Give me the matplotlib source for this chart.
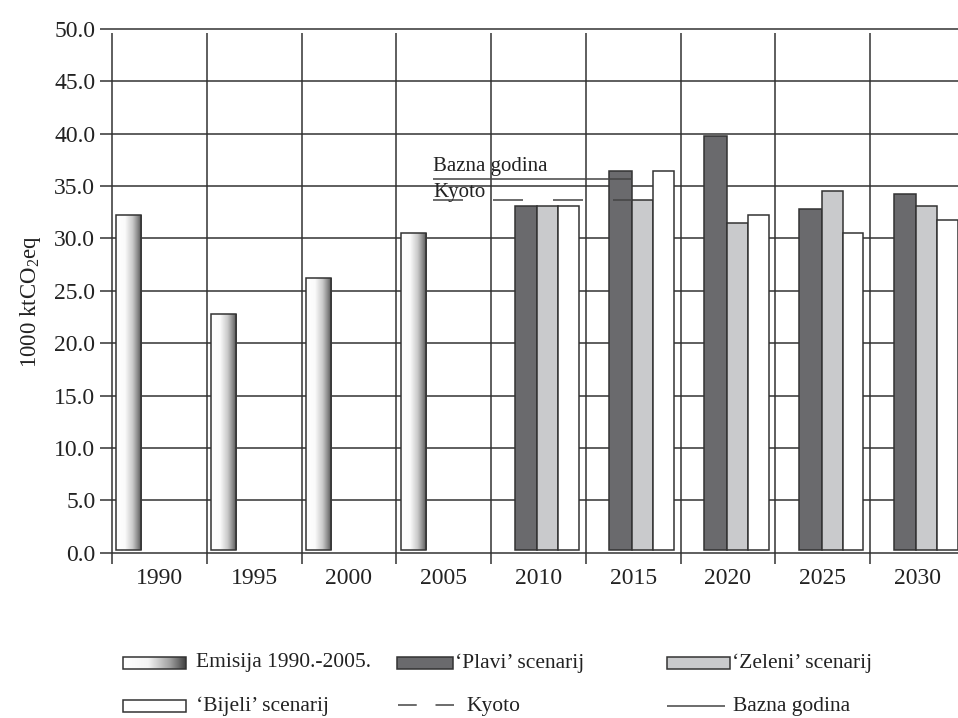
import numpy as np
import matplotlib
matplotlib.use("Agg")
import matplotlib.pyplot as plt
from matplotlib.colors import LinearSegmentedColormap
from matplotlib.patches import Rectangle
import matplotlib.transforms as mtransforms

# ---------------- data ----------------
years = ['1990', '1995', '2000', '2005', '2010', '2015', '2020', '2025', '2030']
hist_years = ['1990', '1995', '2000', '2005']
emisija = [32.2, 22.8, 26.2, 30.5]
scen_years = ['2010', '2015', '2020', '2025', '2030']
plavi = [33.1, 36.4, 39.8, 32.8, 34.2]
zeleni = [33.1, 33.7, 31.5, 34.5, 33.1]
bijeli = [33.1, 36.4, 32.2, 30.5, 31.8]
kyoto = 33.7
bazna = 35.7
yticks = [0, 5, 10, 15, 20, 25, 30, 35, 40, 45, 50]

# ---------------- style ----------------
plt.rcParams['font.family'] = ['Liberation Serif', 'DejaVu Serif']
plt.rcParams['mathtext.fontset'] = 'custom'
plt.rcParams['mathtext.rm'] = 'Liberation Serif'
plt.rcParams['mathtext.it'] = 'Liberation Serif'
plt.rcParams['lines.scale_dashes'] = False

W, H = 958, 718
DPI = 100
fig = plt.figure(figsize=(W / DPI, H / DPI), dpi=DPI)
fig.patch.set_facecolor('white')

LINE = '#333333'
DARK = '#6a6a6d'
LIGHT = '#c9cacc'
TXT = '#222222'
LW = 1.1
FS_TICK = 17
FS_LEG = 15.5

ax_left_px, ax_right_px = 112, 958
ax_bot_px, ax_top_px = 552.7, 29.0
ax = fig.add_axes([ax_left_px / W, 1 - ax_bot_px / H,
                   (ax_right_px - ax_left_px) / W, (ax_bot_px - ax_top_px) / H])
cat_w_px = 94.75
xmax = (ax_right_px - ax_left_px) / cat_w_px
ax.set_xlim(0, xmax)
ax.set_ylim(0, 50)
for s in ax.spines.values():
    s.set_visible(False)
ax.patch.set_visible(False)

ax_w_px = ax_right_px - ax_left_px
ax_h_px = ax_bot_px - ax_top_px

# horizontal grid (extending left as ticks)
trans_h = mtransforms.blended_transform_factory(ax.transAxes, ax.transData)
for yv in yticks:
    ax.plot([-12 / ax_w_px, 1], [yv, yv], transform=trans_h, color=LINE,
            lw=LW, clip_on=False, zorder=1, solid_capstyle='butt')

# vertical category boundaries (extending below axis)
trans_v = mtransforms.blended_transform_factory(ax.transData, ax.transAxes)
for i in range(len(years)):
    ax.plot([i, i], [-(564 - ax_bot_px) / ax_h_px, (ax_bot_px - 32.5) / ax_h_px],
            transform=trans_v, color=LINE, lw=LW, clip_on=False, zorder=1,
            solid_capstyle='butt')

# gradient colormap
grad_cmap = LinearSegmentedColormap.from_list(
    'g', [(0.0, '#ffffff'), (0.35, '#fbfbfb'), (0.65, '#c8c8c8'),
          (0.85, '#858585'), (1.0, '#4a4a4a')])
grad = np.linspace(0, 1, 256).reshape(1, -1)

BOT = 0.3  # bars sit slightly above the axis line
# historical bars
for i, yr in enumerate(hist_years):
    idx = years.index(yr)
    x0 = idx + 0.045
    w = 0.265
    ax.imshow(grad, extent=[x0, x0 + w, BOT, emisija[i]], aspect='auto',
              cmap=grad_cmap, zorder=2, interpolation='bilinear')
    ax.add_patch(Rectangle((x0, BOT), w, emisija[i] - BOT, fill=False,
                           ec=LINE, lw=LW, zorder=3))

# scenario bars
offs = [(0.25, 0.24, DARK, plavi), (0.49, 0.22, LIGHT, zeleni), (0.71, 0.22, 'white', bijeli)]
for j, yr in enumerate(scen_years):
    idx = years.index(yr)
    for off, w, col, vals in offs:
        ax.bar(idx + off, vals[j] - BOT, width=w, bottom=BOT, align='edge',
               color=col, edgecolor=LINE, lw=LW, zorder=3)

ax.set_xlim(0, xmax)
ax.set_ylim(0, 50)

# Kyoto / Bazna godina reference lines
line_x0 = (433 - ax_left_px) / cat_w_px
line_x1 = years.index('2015') + 0.25 + 0.24
ax.plot([line_x0, line_x1], [bazna, bazna], color='#444444', lw=LW, zorder=5,
        solid_capstyle='butt')
ax.plot([line_x0, line_x1], [kyoto, kyoto], color='#444444', lw=LW, zorder=5,
        dashes=(21.6, 21.6), dash_capstyle='butt')
ax.text(line_x0, bazna + 0.75, 'Bazna godina', fontsize=15, ha='left',
        va='baseline', color=TXT, zorder=6)
ax.text(line_x0, kyoto + 0.3, 'Kyoto', fontsize=15, ha='left',
        va='baseline', color=TXT, zorder=6)

# ticks
ax.set_yticks(yticks)
ax.set_yticklabels([f'{v:.1f}' for v in yticks], fontsize=FS_TICK, color=TXT)
ax.tick_params(axis='y', length=0, pad=12)
ax.set_xticks([i + 0.5 for i in range(len(years))])
ax.set_xticklabels(years, fontsize=FS_TICK, color=TXT)
ax.tick_params(axis='x', length=0, pad=11)

fig.text(31 / W, 1 - 302 / H, '1000 ktCO$_2$eq', rotation=90, fontsize=16.5,
         ha='center', va='center', color=TXT)

# ---------------- legend ----------------
lg = fig.add_axes([0, 0, 1, 1])
lg.set_xlim(0, W)
lg.set_ylim(H, 0)
lg.axis('off')
lg.patch.set_visible(False)

r1, r2 = 663, 706
ph = 12
leg_cmap = LinearSegmentedColormap.from_list(
    'lg', [(0.0, '#ffffff'), (0.4, '#f4f4f4'), (0.75, '#a0a0a0'), (1.0, '#404040')])
lg.imshow(grad, extent=[123, 186, r1 + ph / 2, r1 - ph / 2], aspect='auto',
          cmap=leg_cmap, zorder=2, interpolation='bilinear')
lg.add_patch(Rectangle((123, r1 - ph / 2), 63, ph, fill=False, ec=LINE, lw=LW, zorder=3))
lg.text(196, r1, 'Emisija 1990.-2005.', fontsize=FS_LEG, va='center', ha='left', color=TXT)

lg.add_patch(Rectangle((397, r1 - ph / 2), 56, ph, fc=DARK, ec=LINE, lw=LW))
lg.text(455, r1, '‘Plavi’ scenarij', fontsize=FS_LEG, va='center', ha='left', color=TXT)

lg.add_patch(Rectangle((667, r1 - ph / 2), 63, ph, fc=LIGHT, ec=LINE, lw=LW))
lg.text(732, r1, '‘Zeleni’ scenarij', fontsize=FS_LEG, va='center', ha='left', color=TXT)

lg.add_patch(Rectangle((123, r2 - ph / 2), 63, ph, fc='white', ec=LINE, lw=LW))
lg.text(196, r2, '‘Bijeli’ scenarij', fontsize=FS_LEG, va='center', ha='left', color=TXT)

lg.plot([398, 454], [r2 - 1, r2 - 1], color='#444444', lw=LW,
        dashes=(13.5, 13.5), dash_capstyle='butt')
lg.text(466, r2, 'Kyoto', fontsize=FS_LEG, va='center', ha='left', color=TXT)

lg.plot([667, 725], [r2, r2], color='#444444', lw=LW, solid_capstyle='butt')
lg.text(733, r2, 'Bazna godina', fontsize=FS_LEG, va='center', ha='left', color=TXT)

fig.savefig('out.png', dpi=DPI)
